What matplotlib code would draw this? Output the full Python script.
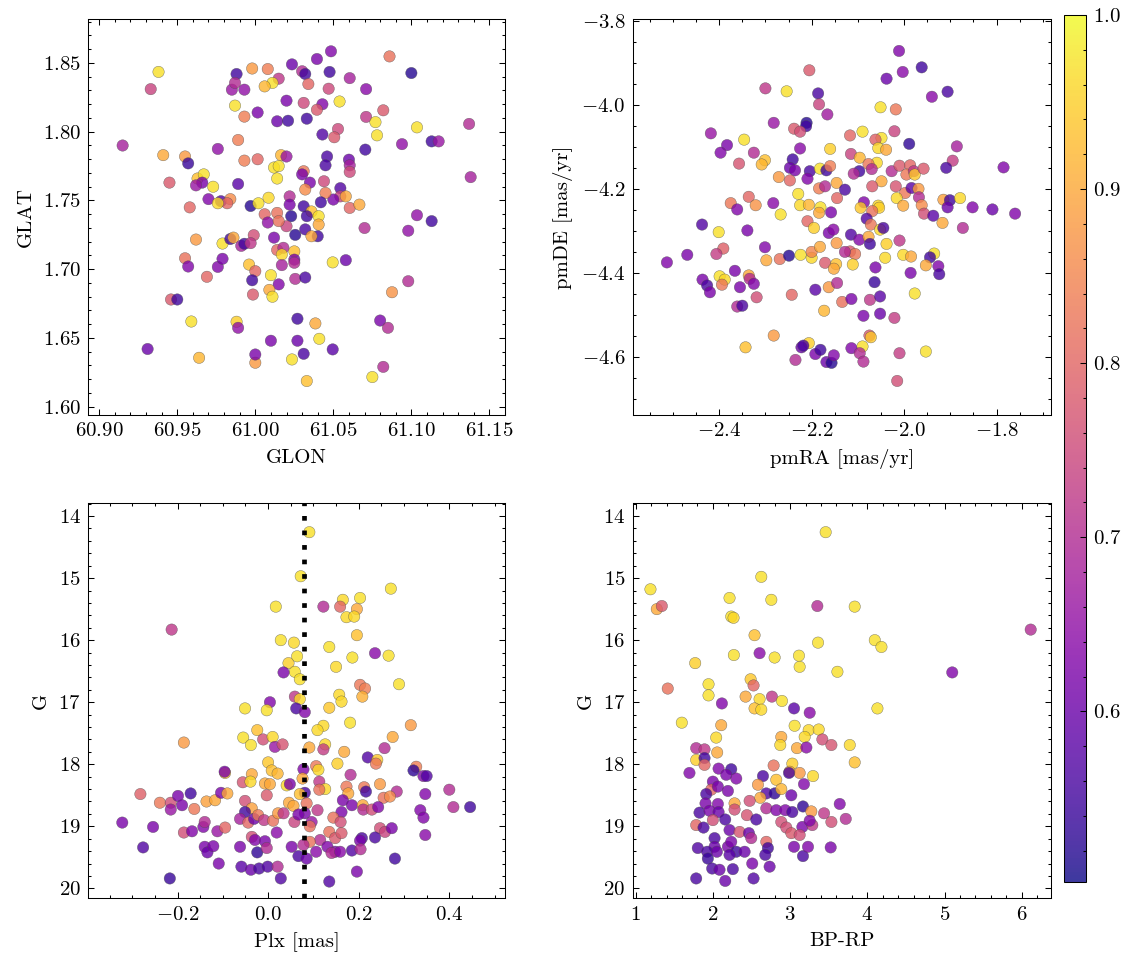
import matplotlib
matplotlib.use("Agg")
import matplotlib.pyplot as plt
import numpy as np

plt.rcParams.update({
    "font.family": "serif",
    "font.serif": ["cmr10"],
    "mathtext.fontset": "cm",
    "axes.formatter.use_mathtext": True,
    "font.size": 10,
    "axes.linewidth": 0.5,
    "xtick.direction": "in", "ytick.direction": "in",
    "xtick.top": True, "ytick.right": True,
    "xtick.minor.visible": True, "ytick.minor.visible": True,
    "xtick.major.size": 3, "ytick.major.size": 3,
    "xtick.minor.size": 1.5, "ytick.minor.size": 1.5,
    "xtick.major.width": 0.5, "ytick.major.width": 0.5,
    "xtick.minor.width": 0.5, "ytick.minor.width": 0.5,
})

# ---------------- sky positions ----------------
glon = [60.938, 60.933, 60.915, 60.941, 60.955, 60.957, 60.945, 60.963, 60.967, 60.966,
        60.962, 60.973, 60.958, 60.970, 60.978, 60.984, 60.982, 60.976, 60.989, 60.976,
        60.989, 60.993, 61.0015, 60.987, 60.993, 61.0015, 60.988, 60.998, 61.008, 61.0235,
        61.015, 61.011, 61.006, 60.993, 60.985, 60.987, 61.020, 61.014, 61.021, 61.0165,
        61.020, 61.012, 61.015, 61.014, 60.997, 61.002, 61.0085, 61.006, 61.014, 61.008,
        61.022, 61.022, 61.023, 61.020, 61.015, 61.0256, 61.012, 61.014, 61.018, 61.017,
        61.025, 61.025, 61.025, 61.017, 61.0256, 60.962, 60.979, 60.984, 60.986, 60.991,
        60.993, 60.999, 60.997, 60.955, 60.957, 60.976, 60.979, 60.996, 61.000, 60.969,
        61.010, 60.998, 61.015, 61.009, 61.011, 60.9985, 60.946, 60.950, 60.959, 60.988,
        60.989, 61.027, 61.010, 61.027, 60.931, 60.964, 61.000, 61.000, 61.0235,
        61.0485, 61.0395, 61.030, 61.032, 61.0476, 61.0605, 61.086, 61.100, 61.034, 61.047,
        61.071, 61.054, 61.031, 61.043, 61.0395, 61.082, 61.071, 61.077, 61.078, 61.033,
        61.053, 61.0506, 61.043, 61.1036, 61.137, 61.094, 61.113, 61.1175, 61.0705, 61.046,
        61.045, 61.060, 61.0605, 61.0605, 61.138, 61.031, 61.030, 61.035, 61.044, 61.032,
        61.0545, 61.0545, 61.058, 61.050, 61.045, 61.042, 61.031, 61.036, 61.0406, 61.033,
        61.0406, 61.032, 61.040, 61.036, 61.0605, 61.0667, 61.070, 61.1036, 61.113, 61.098,
        61.0496, 61.058, 61.032, 61.098, 61.0876, 61.0385, 61.080, 61.085, 61.041, 61.0496,
        61.031, 61.082, 61.075, 61.033]
glat = [1.8435, 1.831, 1.790, 1.783, 1.782, 1.777, 1.763, 1.766, 1.769, 1.763,
        1.761, 1.760, 1.745, 1.751, 1.7495, 1.751, 1.748, 1.748, 1.762, 1.7875,
        1.794, 1.779, 1.780, 1.819, 1.811, 1.814, 1.842, 1.846, 1.8456, 1.849,
        1.8386, 1.8355, 1.833, 1.8306, 1.8306, 1.8355, 1.8226, 1.8076, 1.808, 1.783,
        1.782, 1.774, 1.775, 1.766, 1.746, 1.748, 1.752, 1.740, 1.741, 1.734,
        1.753, 1.747, 1.7386, 1.7313, 1.735, 1.725, 1.723, 1.714, 1.7156, 1.7107,
        1.713, 1.707, 1.7047, 1.703, 1.693, 1.7216, 1.7187, 1.722, 1.723, 1.717,
        1.7185, 1.7248, 1.719, 1.708, 1.702, 1.7017, 1.7076, 1.7034, 1.6986, 1.6945,
        1.6957, 1.692, 1.689, 1.685, 1.680, 1.6816, 1.678, 1.678, 1.662, 1.6618,
        1.6574, 1.664, 1.648, 1.648, 1.642, 1.6356, 1.632, 1.638, 1.6344,
        1.8585, 1.8529, 1.844, 1.842, 1.8435, 1.839, 1.8548, 1.8427, 1.8347, 1.8313,
        1.831, 1.822, 1.821, 1.820, 1.816, 1.8156, 1.8108, 1.807, 1.7974, 1.8095,
        1.802, 1.796, 1.798, 1.8032, 1.8057, 1.791, 1.793, 1.793, 1.787, 1.782,
        1.7756, 1.7797, 1.7756, 1.7708, 1.767, 1.7713, 1.769, 1.763, 1.764, 1.758,
        1.759, 1.753, 1.753, 1.7507, 1.7555, 1.7487, 1.7458, 1.742, 1.7386, 1.7386,
        1.7325, 1.729, 1.724, 1.724, 1.7446, 1.747, 1.730, 1.7393, 1.735, 1.728,
        1.705, 1.7066, 1.694, 1.6913, 1.6833, 1.6606, 1.6627, 1.6574, 1.6494, 1.6417,
        1.6385, 1.629, 1.6216, 1.6187]
p_sky = [0.97, 0.74, 0.68, 0.90, 0.88, 0.54, 0.78, 0.93, 0.97, 0.62,
         0.66, 0.97, 0.80, 0.63, 0.57, 0.86, 0.80, 0.96, 0.58, 0.65,
         0.84, 0.84, 0.80, 0.97, 0.84, 0.62, 0.55, 0.88, 0.84, 0.60,
         0.72, 0.97, 0.92, 0.65, 0.66, 0.70, 0.62, 0.60, 0.55, 0.92,
         0.66, 0.97, 0.97, 0.97, 0.52, 0.97, 0.96, 0.80, 0.82, 0.65,
         0.70, 0.62, 0.52, 0.74, 0.82, 0.52, 0.62, 0.80, 0.70, 0.96,
         0.93, 0.62, 0.70, 0.68, 0.70, 0.88, 0.97, 0.55, 0.90, 0.68,
         0.55, 0.76, 0.72, 0.82, 0.63, 0.63, 0.62, 0.93, 0.80, 0.80,
         0.97, 0.55, 0.63, 0.90, 0.97, 0.78, 0.78, 0.55, 0.97, 0.95,
         0.65, 0.55, 0.62, 0.60, 0.60, 0.92, 0.88, 0.62, 0.97,
         0.63, 0.62, 0.70, 0.55, 0.55, 0.68, 0.82, 0.52, 0.80, 0.75,
         0.64, 0.97, 0.75, 0.63, 0.78, 0.78, 0.72, 0.97, 0.97, 0.55,
         0.75, 0.78, 0.57, 0.97, 0.70, 0.65, 0.55, 0.66, 0.55, 0.56,
         0.56, 0.60, 0.68, 0.75, 0.68, 0.83, 0.62, 0.62, 0.75, 0.86,
         0.57, 0.74, 0.90, 0.62, 0.84, 0.55, 0.55, 0.93, 0.97, 0.55,
         0.90, 0.56, 0.55, 0.90, 0.80, 0.90, 0.70, 0.65, 0.55, 0.65,
         0.97, 0.60, 0.56, 0.70, 0.87, 0.90, 0.62, 0.70, 0.97, 0.58,
         0.56, 0.70, 0.97, 0.93]

# ---------------- proper motions ----------------
pmra = [-2.205, -2.300, -2.254, -2.186, -2.184, -2.166, -2.282, -2.211, -2.212, -2.238,
        -2.225, -2.418, -2.383, -2.397, -2.346, -2.325, -2.301, -2.308, -2.357, -2.225,
        -2.160, -2.241, -2.247, -2.236, -2.204, -2.209, -2.182, -2.168, -2.160, -2.271,
        -2.247, -2.184, -2.171, -2.146, -2.229, -2.225, -2.206, -2.181, -2.184, -2.158,
        -2.145, -2.375, -2.361, -2.336, -2.321, -2.283, -2.267, -2.209, -2.195, -2.437,
        -2.401, -2.339, -2.163, -2.153, -2.391, -2.406, -2.469, -2.513, -2.301, -2.298,
        -2.269, -2.249, -2.224, -2.200, -2.200, -2.182, -2.146, -2.171, -2.147, -2.152,
        -2.366, -2.399, -2.388, -2.394, -2.336, -2.334, -2.325, -2.436, -2.426, -2.420,
        -2.355, -2.319, -2.361, -2.350, -2.243, -2.192, -2.163, -2.145, -2.134, -2.173,
        -2.282, -2.343, -2.206, -2.222, -2.218, -2.235, -2.192, -2.181, -2.168, -2.157,
        -2.152,
        -2.011, -2.003, -1.962, -2.038, -1.940, -1.906, -2.051, -2.018, -2.021, -2.090,
        -2.117, -2.049, -2.062, -2.056, -2.039, -1.989, -1.886, -1.895, -1.909, -1.785,
        -2.115, -2.096, -2.059, -2.077, -2.070, -2.097, -2.109, -2.027, -2.010, -1.987,
        -1.995, -1.979, -1.977, -1.958, -2.049, -2.069, -2.018, -2.128, -1.998, -1.984,
        -1.969, -1.968, -2.016, -2.002, -1.962, -1.957, -1.937, -1.915, -1.901, -1.906,
        -1.879, -1.852, -1.809, -1.760, -1.917, -1.873, -2.087, -2.094, -2.056, -2.054,
        -2.069, -2.081, -2.072, -2.052, -2.045, -2.115, -2.097, -2.077, -2.074, -2.038,
        -2.010, -2.117, -2.106, -2.128, -2.111, -2.041, -2.002, -1.985, -1.935, -1.944,
        -1.953, -1.926, -1.924, -2.062, -1.986, -2.064, -1.977, -2.114, -2.074, -2.052,
        -2.088, -2.052, -2.021, -2.075, -2.072, -2.090, -2.114, -2.096, -2.088, -2.010,
        -1.953, -2.015]
pmde = [-3.917, -3.960, -3.967, -3.972, -3.998, -4.022, -4.042, -4.042, -4.050, -4.056,
        -4.063, -4.067, -4.095, -4.113, -4.082, -4.113, -4.131, -4.141, -4.139, -4.103,
        -4.104, -4.129, -4.149, -4.155, -4.157, -4.175, -4.151, -4.155, -4.145, -4.171,
        -4.179, -4.198, -4.193, -4.185, -4.211, -4.238, -4.237, -4.243, -4.256, -4.255,
        -4.221, -4.233, -4.248, -4.218, -4.238, -4.233, -4.260, -4.276, -4.292, -4.284,
        -4.302, -4.298, -4.304, -4.296, -4.341, -4.354, -4.356, -4.374, -4.338, -4.369,
        -4.366, -4.358, -4.356, -4.363, -4.349, -4.337, -4.328, -4.375, -4.378, -4.389,
        -4.394, -4.407, -4.415, -4.427, -4.405, -4.413, -4.425, -4.415, -4.429, -4.445,
        -4.433, -4.457, -4.479, -4.477, -4.451, -4.439, -4.433, -4.423, -4.468, -4.489,
        -4.548, -4.576, -4.566, -4.576, -4.572, -4.606, -4.592, -4.582, -4.611, -4.613,
        -4.595,
        -3.871, -3.921, -3.910, -3.937, -3.980, -3.968, -4.005, -4.010, -4.062, -4.063,
        -4.072, -4.078, -4.082, -4.102, -4.106, -4.092, -4.098, -4.132, -4.149, -4.148,
        -4.116, -4.125, -4.137, -4.140, -4.152, -4.157, -4.163, -4.157, -4.144, -4.143,
        -4.165, -4.157, -4.165, -4.151, -4.181, -4.193, -4.193, -4.201, -4.209, -4.197,
        -4.199, -4.219, -4.221, -4.239, -4.238, -4.258, -4.263, -4.225, -4.226, -4.243,
        -4.221, -4.243, -4.248, -4.258, -4.280, -4.292, -4.231, -4.244, -4.239, -4.244,
        -4.252, -4.270, -4.284, -4.296, -4.292, -4.308, -4.320, -4.313, -4.330, -4.330,
        -4.322, -4.348, -4.354, -4.349, -4.379, -4.363, -4.356, -4.360, -4.353, -4.362,
        -4.381, -4.383, -4.402, -4.386, -4.399, -4.421, -4.448, -4.461, -4.463, -4.455,
        -4.501, -4.496, -4.506, -4.548, -4.552, -4.574, -4.578, -4.590, -4.610, -4.590,
        -4.586, -4.656]
p_pm = [0.78, 0.72, 0.97, 0.56, 0.74, 0.67, 0.66, 0.52, 0.55, 0.78,
        0.76, 0.66, 0.62, 0.63, 0.97, 0.70, 0.93, 0.92, 0.77, 0.64,
        0.95, 0.55, 0.60, 0.62, 0.56, 0.63, 0.97, 0.55, 0.84, 0.88,
        0.80, 0.84, 0.70, 0.90, 0.97, 0.96, 0.92, 0.97, 0.90, 0.62,
        0.80, 0.83, 0.63, 0.80, 0.87, 0.64, 0.97, 0.80, 0.95, 0.57,
        0.97, 0.62, 0.62, 0.64, 0.79, 0.73, 0.62, 0.63, 0.63, 0.90,
        0.82, 0.52, 0.97, 0.96, 0.85, 0.90, 0.88, 0.78, 0.93, 0.90,
        0.62, 0.97, 0.96, 0.83, 0.90, 0.70, 0.63, 0.62, 0.56, 0.62,
        0.62, 0.76, 0.70, 0.56, 0.80, 0.58, 0.88, 0.70, 0.82, 0.92,
        0.88, 0.93, 0.95, 0.60, 0.56, 0.70, 0.62, 0.55, 0.60, 0.52,
        0.63,
        0.63, 0.64, 0.55, 0.60, 0.64, 0.56, 0.97, 0.83, 0.74, 0.97,
        0.80, 0.97, 0.79, 0.96, 0.90, 0.53, 0.68, 0.73, 0.56, 0.63,
        0.74, 0.92, 0.96, 0.83, 0.70, 0.55, 0.70, 0.70, 0.78, 0.80,
        0.83, 0.72, 0.94, 0.78, 0.90, 0.78, 0.77, 0.56, 0.83, 0.58,
        0.88, 0.70, 0.96, 0.90, 0.86, 0.76, 0.58, 0.89, 0.55, 0.60,
        0.96, 0.63, 0.60, 0.63, 0.90, 0.70, 0.63, 0.94, 0.96, 0.95,
        0.82, 0.57, 0.83, 0.96, 0.56, 0.57, 0.63, 0.90, 0.55, 0.95,
        0.72, 0.78, 0.83, 0.70, 0.95, 0.96, 0.96, 0.90, 0.97, 0.55,
        0.90, 0.63, 0.56, 0.62, 0.62, 0.54, 0.97, 0.62, 0.72, 0.58,
        0.62, 0.60, 0.73, 0.78, 0.94, 0.97, 0.63, 0.70, 0.70, 0.73,
        0.97, 0.76]

# ---------------- parallax vs G ----------------
plx = [0.017, -0.213, 0.028, 0.057, 0.045, 0.059, 0.034, 0.059, 0.004, -0.003,
       -0.051, -0.186, -0.055, -0.038, -0.024, -0.011, 0.010, 0.015, 0.032, 0.000,
       0.008, 0.021, -0.095, -0.096, -0.056, -0.036, -0.039, -0.007, 0.004, 0.041,
       0.048, -0.003, -0.282, -0.239, -0.215, -0.215, -0.199, -0.190, -0.171, -0.163,
       -0.136, -0.117, -0.104, -0.090, -0.051, -0.036, -0.051, -0.062, -0.044, -0.031,
       -0.022, -0.009, 0.011, 0.022, 0.034, 0.046, 0.056, 0.058, -0.322, -0.254,
       -0.186, -0.168, -0.143, -0.140, -0.112, -0.095, -0.276, -0.217, -0.140, -0.134,
       -0.121, -0.109, -0.062, -0.036, -0.029, -0.024, -0.007, -0.003, 0.019, -0.059,
       -0.038, -0.020, -0.001, 0.021, 0.028, 0.052,
       0.091, 0.072, 0.271, 0.203, 0.165, 0.122, 0.159, 0.196, 0.173, 0.190,
       0.196, 0.135, 0.064, 0.186, 0.236, 0.266, 0.070, 0.150, 0.203, 0.214,
       0.208, 0.289, 0.157, 0.162, 0.070, 0.062, 0.081, 0.135, 0.181, 0.122,
       0.109, 0.315, 0.275, 0.126, 0.091, 0.122, 0.168, 0.257, 0.220, 0.241,
       0.238, 0.153, 0.106, 0.111, 0.078, 0.327, 0.321, 0.343, 0.350, 0.182,
       0.076, 0.113, 0.126, 0.113, 0.081, 0.070, 0.173, 0.177, 0.212, 0.216,
       0.247, 0.284, 0.347, 0.400, 0.255, 0.269, 0.165, 0.185, 0.209, 0.210,
       0.229, 0.243, 0.085, 0.109, 0.081, 0.067, 0.162, 0.336, 0.343, 0.409,
       0.446, 0.144, 0.160, 0.096, 0.092, 0.247, 0.258, 0.273, 0.135, 0.148,
       0.162, 0.207, 0.203, 0.236, 0.115, 0.092, 0.078, 0.347, 0.131, 0.148,
       0.140, 0.159, 0.185, 0.204, 0.106, 0.067, 0.085, 0.280, 0.196, 0.135]
g_plx = [15.46, 15.83, 16.00, 16.04, 16.37, 16.51, 16.52, 16.91, 17.00, 17.13,
         17.10, 17.65, 17.57, 17.69, 17.45, 17.60, 17.56, 17.72, 17.68, 17.97,
         18.10, 18.15, 18.14, 18.12, 18.29, 18.16, 18.28, 18.31, 18.32, 18.34,
         18.32, 18.50, 18.48, 18.62, 18.62, 18.73, 18.51, 18.66, 18.47, 18.72,
         18.60, 18.58, 18.46, 18.47, 18.59, 18.71, 18.77, 18.88, 18.94, 18.88,
         18.82, 18.90, 18.91, 18.79, 18.79, 18.62, 18.67, 18.93, 18.94, 19.01,
         19.10, 19.08, 19.01, 18.93, 19.08, 19.02, 19.34, 19.84, 19.33, 19.42,
         19.32, 19.60, 19.33, 19.17, 19.22, 19.42, 19.24, 19.35, 19.10, 19.65,
         19.70, 19.68, 19.65, 19.65, 19.84, 19.33,
         14.26, 14.97, 15.17, 15.32, 15.35, 15.46, 15.46, 15.50, 15.63, 15.62,
         15.92, 16.11, 16.26, 16.28, 16.21, 16.25, 16.63, 16.43, 16.72, 16.78,
         16.91, 16.71, 16.88, 16.99, 16.95, 17.10, 17.16, 17.09, 17.33, 17.38,
         17.45, 17.37, 17.56, 17.68, 17.73, 17.76, 17.80, 17.74, 17.89, 17.93,
         17.99, 17.99, 18.03, 18.09, 18.08, 18.04, 18.10, 18.19, 18.19, 18.17,
         18.23, 18.28, 18.40, 18.41, 18.46, 18.48, 18.36, 18.47, 18.37, 18.44,
         18.32, 18.44, 18.48, 18.41, 18.54, 18.52, 18.58, 18.66, 18.66, 18.73,
         18.73, 18.69, 18.63, 18.74, 18.79, 18.81, 18.77, 18.74, 18.86, 18.69,
         18.69, 18.86, 18.93, 18.93, 19.00, 19.03, 19.09, 19.03, 19.09, 19.19,
         19.11, 19.19, 19.23, 19.18, 19.22, 19.25, 19.30, 19.14, 19.33, 19.41,
         19.43, 19.41, 19.39, 19.37, 19.41, 19.48, 19.52, 19.52, 19.73, 19.89]
p_plx = [0.97, 0.72, 0.97, 0.96, 0.95, 0.97, 0.62, 0.72, 0.63, 0.97,
         0.97, 0.88, 0.97, 0.97, 0.93, 0.76, 0.96, 0.66, 0.77, 0.94,
         0.93, 0.92, 0.93, 0.62, 0.77, 0.90, 0.96, 0.90, 0.90, 0.96,
         0.62, 0.78, 0.79, 0.83, 0.76, 0.66, 0.62, 0.62, 0.55, 0.83,
         0.89, 0.90, 0.62, 0.90, 0.76, 0.89, 0.55, 0.68, 0.80, 0.60,
         0.83, 0.72, 0.82, 0.88, 0.72, 0.90, 0.90, 0.74, 0.62, 0.62,
         0.76, 0.63, 0.63, 0.70, 0.66, 0.80, 0.57, 0.54, 0.62, 0.60,
         0.62, 0.62, 0.62, 0.76, 0.63, 0.53, 0.62, 0.70, 0.64, 0.58,
         0.60, 0.56, 0.57, 0.70, 0.57, 0.62,
         0.97, 0.97, 0.97, 0.97, 0.96, 0.70, 0.80, 0.90, 0.96, 0.96,
         0.93, 0.97, 0.97, 0.97, 0.64, 0.97, 0.97, 0.96, 0.83, 0.84,
         0.91, 0.97, 0.96, 0.96, 0.96, 0.56, 0.63, 0.94, 0.97, 0.96,
         0.96, 0.88, 0.90, 0.96, 0.90, 0.73, 0.90, 0.70, 0.57, 0.94,
         0.83, 0.95, 0.83, 0.96, 0.63, 0.84, 0.53, 0.63, 0.57, 0.70,
         0.90, 0.72, 0.96, 0.82, 0.56, 0.93, 0.83, 0.90, 0.83, 0.55,
         0.88, 0.70, 0.63, 0.70, 0.82, 0.86, 0.62, 0.62, 0.90, 0.70,
         0.76, 0.63, 0.82, 0.72, 0.62, 0.62, 0.62, 0.63, 0.63, 0.70,
         0.55, 0.82, 0.76, 0.66, 0.82, 0.76, 0.74, 0.62, 0.82, 0.78,
         0.78, 0.56, 0.62, 0.56, 0.70, 0.82, 0.70, 0.64, 0.63, 0.62,
         0.70, 0.64, 0.57, 0.70, 0.64, 0.56, 0.60, 0.55, 0.62, 0.57]
plx_line = 0.08

# ---------------- colour-magnitude ----------------
bprp = [3.461, 1.192, 1.274, 1.339, 2.627, 2.216, 2.757, 2.238, 2.268, 3.353,
        2.540, 3.362, 2.272, 2.605, 2.800, 3.115, 3.124, 3.613, 1.771, 1.416,
        1.944, 1.944, 2.489, 2.527, 2.424, 2.605, 2.765, 2.895, 2.540, 2.627,
        2.117, 3.051, 3.254, 1.598, 2.108, 2.043, 3.059, 3.241, 3.371, 2.886,
        2.873, 3.189, 3.418, 3.535, 3.089, 3.211, 1.784, 1.892, 2.056, 1.784,
        1.892, 1.892, 1.697, 2.074, 2.238, 2.303, 2.173, 2.787, 3.029, 2.994,
        3.124, 2.986, 3.297, 2.649, 2.821, 2.584, 2.000, 1.978, 2.065, 2.195,
        1.914, 2.692, 2.800, 2.886, 3.016, 3.180, 2.614, 2.476, 2.281, 2.065,
        1.905, 1.827, 1.957, 2.074, 2.281, 2.441, 2.562, 2.692, 2.821, 2.938,
        3.029, 3.167, 3.275, 3.440, 3.535, 3.643, 1.784, 1.879, 2.000, 2.160,
        2.216, 2.346, 2.467, 2.497, 2.886, 2.951, 3.159, 3.288, 3.254, 3.016,
        3.124, 2.022, 2.022, 1.805, 1.927, 2.052, 2.195, 2.238, 2.303, 2.411,
        2.216, 1.935, 1.991, 2.086, 2.259, 2.510, 2.692, 2.713, 2.679, 2.735,
        3.051, 3.167, 3.232, 3.526, 1.784, 2.160, 2.527,
        3.837, 4.097, 4.183, 5.100, 6.116, 4.131, 3.773, 3.837, 3.721]
g_cmd = [14.26, 15.18, 15.50, 15.45, 14.98, 15.32, 15.35, 15.62, 15.64, 15.45,
         15.92, 16.04, 16.24, 16.21, 16.28, 16.25, 16.43, 16.51, 16.37, 16.78,
         16.71, 16.89, 16.63, 16.73, 16.91, 16.95, 16.91, 16.98, 17.10, 17.12,
         17.02, 17.10, 17.17, 17.33, 17.37, 17.57, 17.38, 17.45, 17.44, 17.56,
         17.69, 17.56, 17.60, 17.69, 17.74, 17.73, 17.74, 17.76, 17.81, 17.93,
         17.90, 18.01, 18.14, 18.07, 18.08, 18.23, 18.17, 18.02, 17.99, 18.12,
         18.14, 18.14, 18.19, 18.19, 18.25, 18.33, 18.28, 18.41, 18.36, 18.43,
         18.48, 18.47, 18.47, 18.40, 18.50, 18.32, 18.54, 18.59, 18.63, 18.64,
         18.63, 18.78, 18.75, 18.77, 18.73, 18.82, 18.89, 18.71, 18.74, 18.74,
         18.77, 18.68, 18.76, 18.79, 18.93, 18.64, 18.98, 19.02, 18.90, 18.89,
         19.06, 19.09, 19.11, 19.19, 18.93, 19.02, 19.01, 18.98, 18.91, 19.11,
         19.14, 19.19, 19.33, 19.35, 19.41, 19.41, 19.33, 19.25, 19.41, 19.41,
         19.46, 19.52, 19.68, 19.70, 19.69, 19.60, 19.25, 19.35, 19.46, 19.65,
         19.33, 19.48, 19.33, 19.34, 19.84, 19.88, 19.84,
         15.46, 16.00, 16.11, 16.52, 15.83, 17.10, 17.69, 17.97, 18.88]
p_cmd = [0.97, 0.97, 0.90, 0.78, 0.97, 0.97, 0.97, 0.97, 0.96, 0.70,
         0.93, 0.97, 0.97, 0.64, 0.97, 0.97, 0.97, 0.97, 0.95, 0.82,
         0.97, 0.97, 0.94, 0.80, 0.90, 0.96, 0.72, 0.97, 0.93, 0.96,
         0.63, 0.58, 0.64, 0.97, 0.90, 0.96, 0.97, 0.96, 0.96, 0.90,
         0.96, 0.96, 0.76, 0.77, 0.90, 0.64, 0.70, 0.72, 0.90, 0.95,
         0.55, 0.80, 0.63, 0.63, 0.55, 0.63, 0.62, 0.82, 0.95, 0.90,
         0.88, 0.56, 0.96, 0.56, 0.93, 0.88, 0.62, 0.80, 0.62, 0.62,
         0.56, 0.57, 0.53, 0.92, 0.60, 0.63, 0.90, 0.76, 0.90, 0.63,
         0.62, 0.56, 0.62, 0.60, 0.76, 0.77, 0.56, 0.70, 0.63, 0.63,
         0.56, 0.53, 0.88, 0.72, 0.76, 0.63, 0.80, 0.56, 0.76, 0.56,
         0.60, 0.77, 0.60, 0.70, 0.76, 0.76, 0.62, 0.72, 0.63, 0.78,
         0.76, 0.56, 0.60, 0.57, 0.56, 0.60, 0.62, 0.62, 0.55, 0.60,
         0.58, 0.54, 0.56, 0.60, 0.56, 0.62, 0.80, 0.55, 0.56, 0.60,
         0.62, 0.56, 0.63, 0.62, 0.56, 0.60, 0.57,
         0.97, 0.97, 0.97, 0.63, 0.70, 0.97, 0.96, 0.93, 0.70]

p_min, p_max = 0.502, 1.0
cbar_ticks = [0.6, 0.7, 0.8, 0.9, 1.0]

fig = plt.figure(figsize=(1133 / 150, 965 / 150), dpi=150)
W, H = 1133, 965

def add_ax(x0, y0, x1, y1):
    return fig.add_axes([x0 / W, 1 - y1 / H, (x1 - x0) / W, (y1 - y0) / H])

ax_sky = add_ax(88.3, 19, 505, 415)
ax_pm = add_ax(632.7, 19, 1050.7, 415)
ax_plx = add_ax(88.3, 502.7, 505, 898.3)
ax_cmd = add_ax(632.7, 502.7, 1050.7, 898.3)

def scat(ax, x, y, p):
    return ax.scatter(x, y, c=p, cmap="plasma", vmin=p_min, vmax=p_max, s=30,
                      alpha=0.8, edgecolors="0.3", linewidths=0.2)

sc = scat(ax_sky, glon, glat, p_sky)
ax_sky.set_xlim(60.893, 61.160)
ax_sky.set_ylim(1.594, 1.882)
ax_sky.set_xlabel("GLON")
ax_sky.set_ylabel("GLAT")

scat(ax_pm, pmra, pmde, p_pm)
ax_pm.set_xlim(-2.587, -1.683)
ax_pm.set_ylim(-4.737, -3.795)
ax_pm.set_xlabel("pmRA [mas/yr]")
ax_pm.set_ylabel("pmDE [mas/yr]")

scat(ax_plx, plx, g_plx, p_plx)
ax_plx.axvline(plx_line, color="k", linestyle=(0, (1, 2.1)), linewidth=2.25, zorder=5)
ax_plx.set_xlim(-0.397, 0.523)
ax_plx.set_ylim(20.16, 13.785)
ax_plx.set_xlabel("Plx [mas]")
ax_plx.set_ylabel("G")

scat(ax_cmd, bprp, g_cmd, p_cmd)
ax_cmd.set_xlim(0.962, 6.375)
ax_cmd.set_ylim(20.16, 13.785)
ax_cmd.set_xlabel("BP-RP")
ax_cmd.set_ylabel("G")

cax = add_ax(1064.3, 15, 1085.7, 882)
cb = fig.colorbar(sc, cax=cax, ticks=cbar_ticks)
cb.minorticks_on()
cb.outline.set_linewidth(0.5)
cax.tick_params(which="both", direction="in", width=0.5)

fig.savefig("out.png", dpi=150)
